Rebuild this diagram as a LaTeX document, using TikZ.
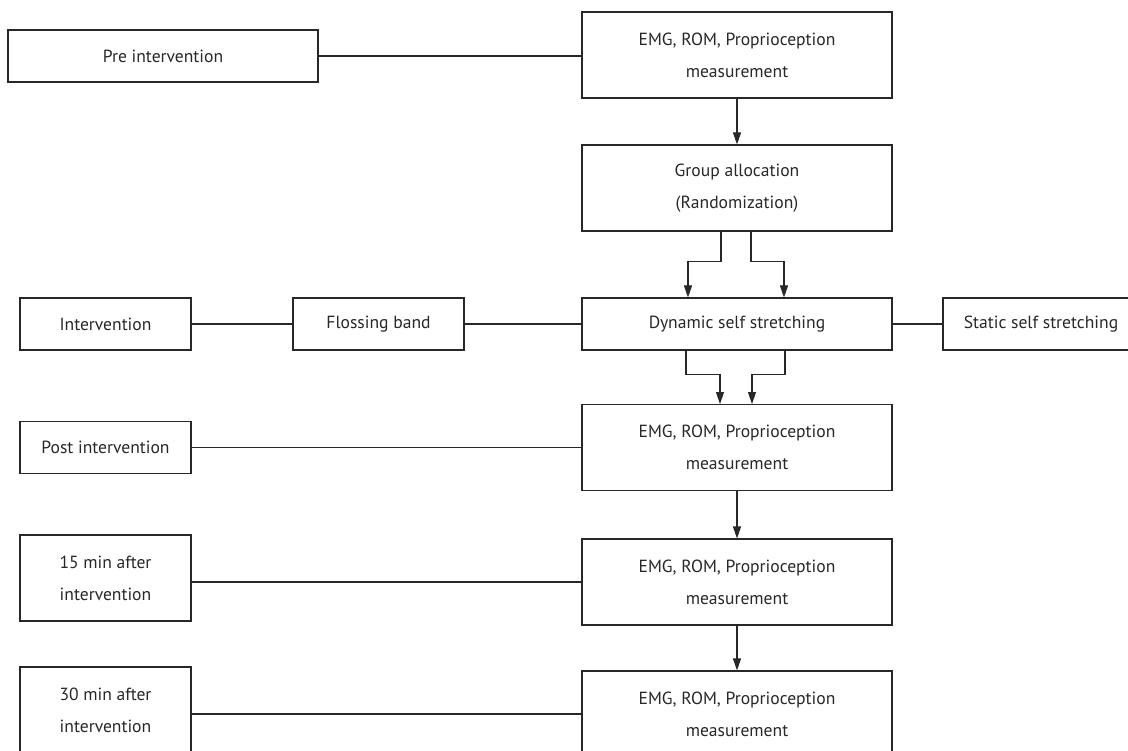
\documentclass[tikz,border=0pt]{standalone}
\usepackage{fontspec}
\setmainfont{PT Sans}
\usetikzlibrary{arrows.meta, positioning, calc}
\usepackage{xcolor}
\definecolor{Ink}{RGB}{40, 40, 40}

\begin{document}
\begin{tikzpicture}[
      box/.style={draw=Ink, line width=0.8pt, fill=white, text=Ink,
                  minimum width=7.75cm, minimum height=2.15cm, align=center,
                  font=\fontsize{12.5}{22.8}\selectfont, inner sep=0pt},
      side/.style={box, minimum width=4.275cm, minimum height=1.3cm},
      arr/.style={-{Triangle[length=3mm, width=2mm]}, line width=0.8pt, Ink},
      lnk/.style={line width=0.8pt, Ink}
    ]
      \clip (0,0) rectangle (28.2,-18.775);

      % measurement column
      \node[box] (emg1) at (18.425,-1.375) {EMG, ROM, Proprioception\\measurement};
      \node[box] (group) at (18.425,-4.7) {Group allocation\\(Randomization)};
      \node[box, minimum height=1.3cm] (dyn) at (18.425,-8.1) {Dynamic self stretching};
      \node[box] (emg2) at (18.425,-11.19) {EMG, ROM, Proprioception\\measurement};
      \node[box] (emg3) at (18.425,-14.55) {EMG, ROM, Proprioception\\measurement};
      \node[box] (emg4) at (18.425,-17.85) {EMG, ROM, Proprioception\\measurement};

      % time points
      \node[box, minimum height=1.3cm] (pre) at (4.075,-1.4) {Pre intervention};
      \node[side] (interv) at (2.6375,-8.1) {Intervention};
      \node[side] (floss) at (9.4625,-8.1) {Flossing band};
      \node[side, minimum width=4.9cm] (static) at (26.025,-8.1) {Static self stretching};
      \node[side] (post) at (2.6375,-11.19) {Post intervention};
      \node[side, minimum height=2.15cm] (m15) at (2.6375,-14.45) {15 min after\\intervention};
      \node[side, minimum height=2.15cm] (m30) at (2.6375,-17.75) {30 min after\\intervention};

      \draw[lnk] (pre.east) -- (pre.east -| emg1.west);
      \draw[lnk] (interv) -- (floss);
      \draw[lnk] (floss) -- (dyn);
      \draw[lnk] (dyn) -- (static);
      \draw[lnk] (post.east) -- (post.east -| emg2.west);
      \draw[lnk] (emg3.west -| m15.east) -- (emg3.west);
      \draw[lnk] (emg4.west -| m30.east) -- (emg4.west);

      \draw[arr] (emg1) -- (group);
      \draw[arr] ([xshift=-0.4cm]group.south) -- ++(0,-0.75) -| ([xshift=-1.225cm]dyn.north);
      \draw[arr] ([xshift=0.35cm]group.south) -- ++(0,-0.75) -| ([xshift=1.175cm]dyn.north);
      \draw[arr] ([xshift=-1.275cm]dyn.south) -- ++(0,-0.6) -| ([xshift=-0.425cm]emg2.north);
      \draw[arr] ([xshift=1.2cm]dyn.south) -- ++(0,-0.6) -| ([xshift=0.375cm]emg2.north);
      \draw[arr] (emg2) -- (emg3);
      \draw[arr] (emg3) -- (emg4);
    \end{tikzpicture}
\end{document}
